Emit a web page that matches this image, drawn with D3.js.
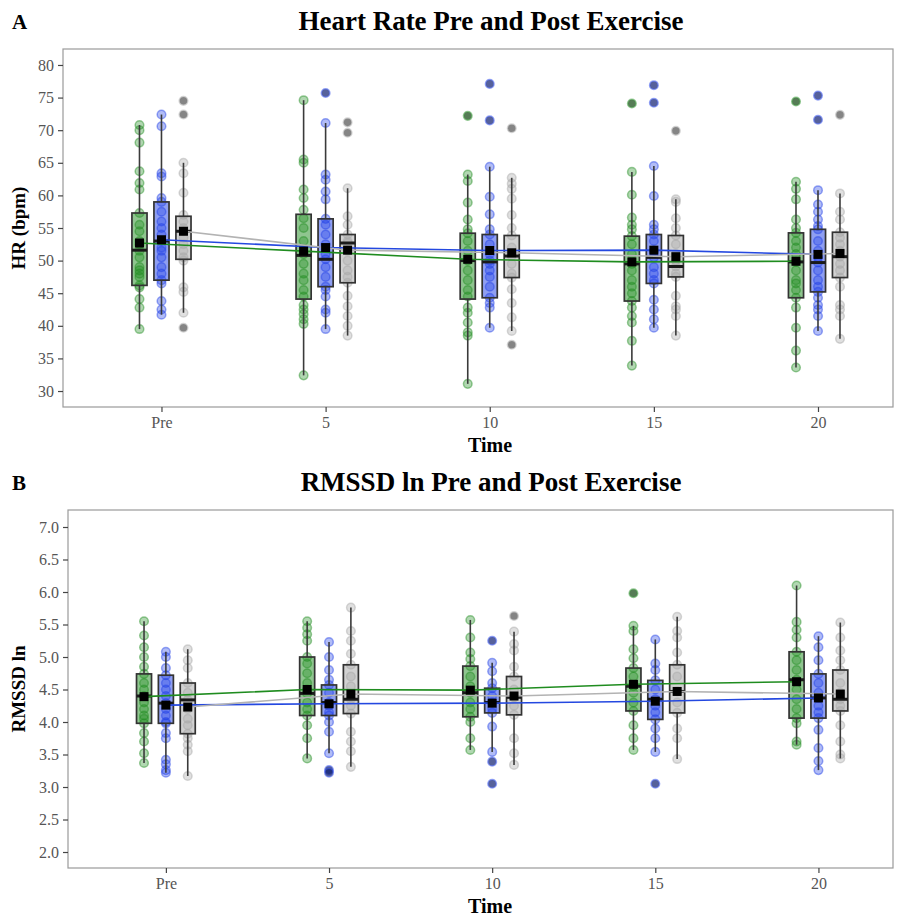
<!DOCTYPE html>
<html>
<head>
<meta charset="utf-8">
<script src="https://cdn.jsdelivr.net/npm/d3@7"></script>
<style>
  body { margin: 0; background: #fff; }
  svg { display: block; }
  text { font-family: "Liberation Serif", "Times New Roman", serif; }
</style>
</head>
<body>
<svg id="chart" width="905" height="917"></svg>
<script>
// ---- data -----------------------------------------------------------------
const times = ["Pre", "5", "10", "15", "20"];

// Heart rate (bpm): individual values per time point
const hrGreenPts = [
  [70.8, 70.0, 68.1, 63.7, 61.9, 60.9, 57.3, 55.5, 54.5, 53.0, 52.5, 51.5, 50.5, 49.0, 48.5, 48.0, 47.5, 46.2, 45.9, 44.1, 42.8, 39.5],
  [74.6, 65.5, 65.0, 60.9, 59.6, 57.8, 56.5, 55.0, 53.0, 51.0, 49.5, 48.0, 47.0, 45.5, 44.5, 43.2, 42.5, 41.8, 41.0, 40.3, 32.4],
  [72.2, 63.2, 62.2, 58.9, 56.3, 54.8, 54.2, 53.0, 51.5, 50.0, 48.5, 47.0, 45.5, 44.5, 42.8, 42.0, 40.5, 39.0, 38.5, 31.1],
  [74.1, 63.6, 60.1, 56.6, 55.5, 54.8, 53.75, 52.5, 51.0, 49.5, 48.5, 47.0, 46.0, 45.0, 43.8, 42.8, 41.5, 40.5, 37.7, 33.9],
  [74.4, 62.1, 61.0, 59.4, 56.3, 55.0, 54.25, 53.0, 52.0, 51.0, 49.8, 48.5, 47.0, 46.5, 45.5, 44.3, 42.8, 39.7, 36.2, 33.6]
];
const hrBluePts = [
  [72.4, 70.6, 63.4, 62.9, 59.6, 59.0, 57.5, 56.0, 55.0, 54.0, 53.0, 52.0, 51.5, 50.5, 49.0, 48.0, 47.0, 46.5, 43.8, 42.5, 41.7],
  [75.7, 71.1, 63.2, 62.4, 60.6, 59.4, 56.4, 55.5, 54.0, 52.5, 51.0, 50.2, 49.0, 47.5, 46.0, 45.5, 44.5, 42.5, 42.0, 39.5],
  [77.1, 71.5, 64.4, 59.8, 57.1, 54.8, 54.0, 52.5, 51.0, 50.0, 49.5, 48.5, 47.5, 46.0, 44.3, 43.5, 42.8, 39.7],
  [76.9, 74.2, 64.5, 59.9, 55.5, 54.8, 54.0, 53.0, 51.5, 50.5, 49.0, 48.0, 47.0, 46.5, 44.0, 42.5, 41.0, 39.7],
  [75.3, 71.6, 60.8, 58.6, 57.5, 56.3, 55.3, 54.8, 53.0, 51.5, 50.5, 49.7, 48.5, 47.0, 46.0, 45.2, 44.3, 43.2, 42.5, 41.5, 39.2]
];
const hrGreyPts = [
  [74.5, 72.4, 65.0, 63.4, 60.4, 57.0, 56.0, 55.0, 54.5, 53.5, 52.5, 51.5, 50.5, 50.0, 45.9, 45.2, 42.0, 39.7],
  [71.2, 69.6, 61.1, 56.8, 55.5, 54.0, 53.0, 52.7, 51.5, 50.0, 48.5, 47.5, 46.6, 44.6, 43.0, 41.5, 40.0, 38.5],
  [70.3, 62.7, 61.8, 61.0, 59.5, 57.0, 55.0, 53.85, 52.0, 50.7, 49.5, 48.0, 47.4, 45.6, 43.5, 41.3, 39.2, 37.1],
  [69.9, 59.4, 59.0, 56.5, 55.0, 53.85, 52.5, 51.0, 50.0, 49.1, 48.0, 47.5, 44.6, 43.0, 42.5, 41.5, 38.5],
  [72.35, 60.3, 57.5, 56.3, 54.35, 53.5, 52.5, 51.5, 50.6, 49.5, 48.5, 47.4, 46.0, 43.2, 42.5, 41.5, 38.0]
];
// box summaries: [lower whisker, Q1, median, Q3, upper whisker]
const hrGreenBox = [[39.5, 46.2, 51.6, 57.3, 70.8], [32.4, 44.1, 50.8, 57.1, 74.6], [31.1, 44.1, 50.0, 54.2, 63.2], [33.9, 43.8, 49.5, 53.75, 63.6], [33.6, 44.3, 49.8, 54.25, 62.1]];
const hrBlueBox  = [[41.7, 47.0, 53.0, 59.0, 72.4], [39.5, 46.0, 50.2, 56.4, 71.1], [39.7, 44.3, 49.8, 54.0, 64.4], [39.7, 46.5, 50.5, 54.0, 64.5], [39.2, 45.2, 49.7, 54.8, 60.8]];
const hrGreyBox  = [[42.0, 50.2, 54.5, 56.8, 65.0], [38.5, 46.6, 52.7, 54.0, 61.1], [39.2, 47.4, 50.7, 53.85, 62.7], [38.5, 47.5, 49.1, 53.85, 59.4], [38.0, 47.4, 50.6, 54.35, 60.3]];
const hrGreenMean = [52.7, 51.45, 50.2, 49.8, 49.9];
const hrBlueMean  = [53.2, 52.0, 51.55, 51.6, 50.95];
const hrGreyMean  = [54.5, 51.6, 51.2, 50.6, 51.1];
const hrTicks = [30, 35, 40, 45, 50, 55, 60, 65, 70, 75, 80];

// RMSSD ln: individual values per time point
const rmGreenPts = [
  [5.55, 5.33, 5.15, 5.0, 4.85, 4.74, 4.6, 4.5, 4.4, 4.3, 4.2, 4.1, 4.05, 3.98, 3.83, 3.7, 3.52, 3.37],
  [5.55, 5.45, 5.35, 5.25, 5.0, 4.9, 4.75, 4.6, 4.5, 4.44, 4.3, 4.2, 4.1, 3.95, 3.75, 3.44],
  [5.57, 5.3, 5.07, 4.97, 4.86, 4.7, 4.55, 4.45, 4.3, 4.2, 4.08, 4.0, 3.75, 3.57],
  [5.98, 5.48, 5.4, 5.12, 4.98, 4.83, 4.7, 4.55, 4.45, 4.3, 4.17, 3.95, 3.75, 3.57],
  [6.1, 5.54, 5.42, 5.3, 5.08, 4.95, 4.8, 4.65, 4.5, 4.35, 4.2, 4.06, 3.98, 3.7, 3.65]
];
const rmBluePts = [
  [5.08, 5.0, 4.83, 4.72, 4.6, 4.5, 4.4, 4.29, 4.2, 4.1, 4.0, 3.98, 3.83, 3.75, 3.42, 3.35, 3.26, 3.22],
  [5.23, 5.0, 4.8, 4.65, 4.57, 4.45, 4.3, 4.25, 4.15, 4.1, 4.0, 3.85, 3.52, 3.26, 3.22],
  [5.25, 4.91, 4.78, 4.6, 4.52, 4.4, 4.3, 4.2, 4.14, 3.93, 3.54, 3.39, 3.05],
  [5.27, 4.9, 4.8, 4.64, 4.5, 4.35, 4.25, 4.15, 4.04, 3.9, 3.75, 3.54, 3.05],
  [5.32, 5.15, 4.95, 4.74, 4.6, 4.45, 4.37, 4.25, 4.15, 4.06, 3.88, 3.6, 3.4, 3.26]
];
const rmGreyPts = [
  [5.12, 4.95, 4.83, 4.6, 4.45, 4.34, 4.2, 4.05, 3.95, 3.82, 3.75, 3.65, 3.55, 3.17],
  [5.76, 5.4, 5.25, 5.05, 4.88, 4.7, 4.55, 4.35, 4.25, 4.13, 3.85, 3.7, 3.55, 3.31],
  [5.63, 5.39, 5.2, 5.1, 4.85, 4.7, 4.5, 4.38, 4.25, 4.11, 3.75, 3.52, 3.34],
  [5.62, 5.4, 5.3, 5.07, 4.88, 4.7, 4.47, 4.3, 4.14, 3.9, 3.75, 3.43],
  [5.53, 5.3, 5.1, 4.95, 4.8, 4.6, 4.45, 4.35, 4.25, 4.17, 3.95, 3.7, 3.5, 3.44]
];
const rmGreenBox = [[3.37, 3.98, 4.4, 4.74, 5.55], [3.44, 4.1, 4.44, 5.0, 5.55], [3.57, 4.08, 4.45, 4.86, 5.57], [3.57, 4.17, 4.55, 4.83, 5.48], [3.65, 4.06, 4.65, 5.08, 6.1]];
const rmBlueBox  = [[3.22, 3.98, 4.29, 4.72, 5.08], [3.52, 4.1, 4.3, 4.57, 5.23], [3.54, 4.14, 4.3, 4.52, 4.91], [3.54, 4.04, 4.35, 4.64, 5.27], [3.26, 4.06, 4.37, 4.74, 5.32]];
const rmGreyBox  = [[3.17, 3.82, 4.34, 4.6, 5.12], [3.31, 4.13, 4.35, 4.88, 5.76], [3.34, 4.11, 4.38, 4.7, 5.39], [3.43, 4.14, 4.47, 4.88, 5.62], [3.44, 4.17, 4.35, 4.8, 5.53]];
const rmGreenMean = [4.39, 4.5, 4.49, 4.58, 4.62];
const rmBlueMean  = [4.26, 4.28, 4.29, 4.32, 4.37];
const rmGreyMean  = [4.23, 4.43, 4.4, 4.47, 4.43];
const rmTicks = [2.0, 2.5, 3.0, 3.5, 4.0, 4.5, 5.0, 5.5, 6.0, 6.5, 7.0];

// ---- drawing ---------------------------------------------------------------
const svg = d3.select("#chart");
const COLORS = { green: "#1f8c1f", blue: "#1f3fe6", grey: "#a6a6a6" };
const DODGE = 0.134;   // horizontal offset between groups, in time-slot units
const BOXW = 0.092;    // box width, in time-slot units

function drawPanel(cfg) {
  const g = svg.append("g");
  const x = d3.scaleLinear().domain([-0.6, 4.457]).range([cfg.left, cfg.right]);
  const y = d3.scaleLinear().domain(cfg.yDomain).range([cfg.bottom, cfg.top]);

  // panel frame
  g.append("rect")
    .attr("x", cfg.left).attr("y", cfg.top)
    .attr("width", cfg.right - cfg.left).attr("height", cfg.bottom - cfg.top)
    .attr("fill", "none").attr("stroke", "#9a9a9a").attr("stroke-width", 1.2);

  // axes
  const yAxis = d3.axisLeft(y).tickValues(cfg.ticks).tickFormat(cfg.fmt).tickSize(5).tickPadding(4);
  const ya = g.append("g").attr("transform", `translate(${cfg.left},0)`).call(yAxis);
  const xAxis = d3.axisBottom(x).tickValues(d3.range(times.length)).tickFormat(i => times[i]).tickSize(5).tickPadding(5);
  const xa = g.append("g").attr("transform", `translate(0,${cfg.bottom})`).call(xAxis);
  [ya, xa].forEach(a => {
    a.select(".domain").remove();
    a.selectAll(".tick line").attr("stroke", "#444").attr("stroke-width", 1.2);
    a.selectAll(".tick text").attr("fill", "#555").style("font-size", "16px")
      .style("font-family", "'Liberation Serif', serif");
  });

  const series = cfg.series;
  const offsets = [-DODGE, 0, DODGE];
  const pos = (si, ti) => x(ti + offsets[si]);
  const halfW = (x(BOXW) - x(0)) / 2;

  // individual observations (outliers get an extra dark marker underneath)
  series.forEach((s, si) => {
    s.pts.forEach((vals, ti) => {
      const box = s.box[ti];
      vals.forEach(v => {
        const cx = pos(si, ti), cy = y(v);
        if (v < box[0] - 1e-9 || v > box[4] + 1e-9) {
          g.append("circle").attr("cx", cx).attr("cy", cy).attr("r", 3.8)
            .attr("fill", "#000").attr("fill-opacity", 0.55);
        }
        g.append("circle").attr("cx", cx).attr("cy", cy).attr("r", 4.3)
          .attr("fill", s.color).attr("fill-opacity", 0.35)
          .attr("stroke", s.color).attr("stroke-opacity", 0.45).attr("stroke-width", 1.5);
      });
    });
  });

  // box plots
  series.forEach((s, si) => {
    s.box.forEach((b, ti) => {
      const cx = pos(si, ti);
      g.append("line").attr("x1", cx).attr("x2", cx).attr("y1", y(b[4])).attr("y2", y(b[3]))
        .attr("stroke", "#3a3a3a").attr("stroke-width", 1.6);
      g.append("line").attr("x1", cx).attr("x2", cx).attr("y1", y(b[1])).attr("y2", y(b[0]))
        .attr("stroke", "#3a3a3a").attr("stroke-width", 1.6);
      g.append("rect").attr("x", cx - halfW).attr("width", 2 * halfW)
        .attr("y", y(b[3])).attr("height", y(b[1]) - y(b[3]))
        .attr("fill", s.color).attr("fill-opacity", s.boxAlpha)
        .attr("stroke", "#333").attr("stroke-width", 1.7);
      g.append("line").attr("x1", cx - halfW).attr("x2", cx + halfW)
        .attr("y1", y(b[2])).attr("y2", y(b[2]))
        .attr("stroke", "#1a1a1a").attr("stroke-width", 3);
    });
  });

  // lines through group means
  series.forEach((s, si) => {
    const line = d3.line().x((d, ti) => pos(si, ti)).y(d => y(d));
    g.append("path").datum(s.mean).attr("d", line)
      .attr("fill", "none").attr("stroke", s.lineColor).attr("stroke-width", 1.6);
  });

  // mean markers
  series.forEach((s, si) => {
    s.mean.forEach((m, ti) => {
      g.append("rect").attr("x", pos(si, ti) - 4.5).attr("y", y(m) - 4.5)
        .attr("width", 9).attr("height", 9).attr("fill", "#000");
    });
  });

  // titles
  svg.append("text").attr("x", 12).attr("y", cfg.top - 20)
    .attr("font-weight", "bold").style("font-size", "21px").text(cfg.letter);
  svg.append("text").attr("x", 491).attr("y", cfg.top - 19).attr("text-anchor", "middle")
    .attr("font-weight", "bold").style("font-size", "27px").text(cfg.title);
  svg.append("text").attr("x", 490).attr("y", cfg.bottom + 45)
    .attr("text-anchor", "middle").attr("font-weight", "bold").style("font-size", "20px").text("Time");
  svg.append("text")
    .attr("transform", `translate(25,${(cfg.top + cfg.bottom) / 2}) rotate(-90)`)
    .attr("text-anchor", "middle").attr("font-weight", "bold").style("font-size", "19px").text(cfg.yTitle);
}

const mkSeries = (pts, box, mean) => [
  { color: COLORS.green, lineColor: "#1f8c1f", boxAlpha: 0.5, pts: pts[0], box: box[0], mean: mean[0] },
  { color: COLORS.blue,  lineColor: "#2448e0", boxAlpha: 0.5, pts: pts[1], box: box[1], mean: mean[1] },
  { color: COLORS.grey,  lineColor: "#b3b3b3", boxAlpha: 0.5, pts: pts[2], box: box[2], mean: mean[2] }
];

drawPanel({
  letter: "A", title: "Heart Rate Pre and Post Exercise", yTitle: "HR (bpm)",
  left: 63, right: 893, top: 49, bottom: 407,
  yDomain: [27.55, 82.45], ticks: hrTicks, fmt: d3.format("d"),
  series: mkSeries([hrGreenPts, hrBluePts, hrGreyPts], [hrGreenBox, hrBlueBox, hrGreyBox], [hrGreenMean, hrBlueMean, hrGreyMean])
});

drawPanel({
  letter: "B", title: "RMSSD ln Pre and Post Exercise", yTitle: "RMSSD ln",
  left: 68, right: 893, top: 510, bottom: 868,
  yDomain: [1.754, 7.2615], ticks: rmTicks, fmt: d3.format(".1f"),
  series: mkSeries([rmGreenPts, rmBluePts, rmGreyPts], [rmGreenBox, rmBlueBox, rmGreyBox], [rmGreenMean, rmBlueMean, rmGreyMean])
});
</script>
</body>
</html>
